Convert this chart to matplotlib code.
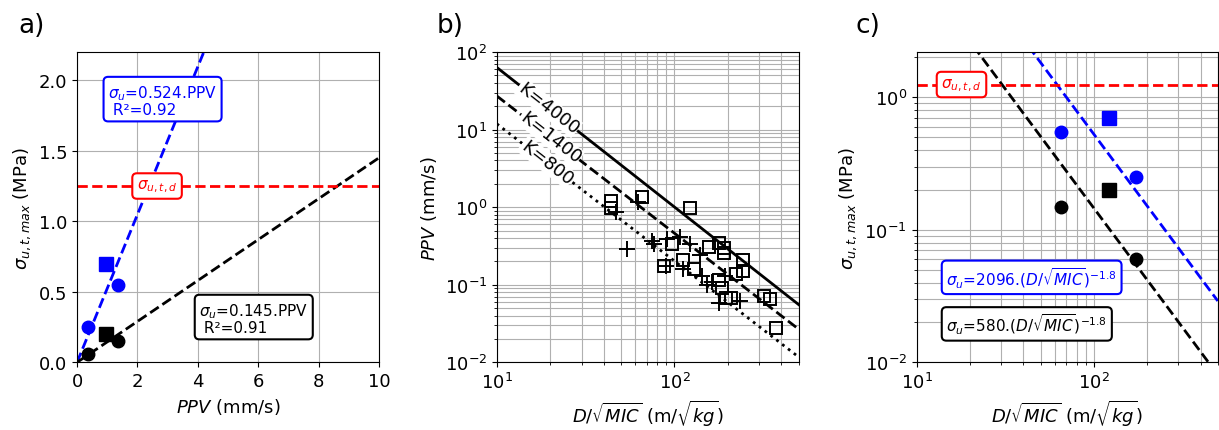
import numpy as np
import matplotlib
matplotlib.use("Agg")
import matplotlib.pyplot as plt

# panel a: sigma vs PPV
ppv_circ = [0.35, 1.35]
ppv_sq = [0.97]
sig_blue_circ = [0.25, 0.55]
sig_blue_sq = [0.70]
sig_black_circ = [0.06, 0.15]
sig_black_sq = [0.20]
slope_blue = 0.524
slope_black = 0.145
sig_design = 1.25

# panel b: PPV vs scaled distance
sq_sd = [44, 44, 66, 122, 97, 157, 177, 189, 189, 244, 244, 222, 87, 111, 128,
         177, 184, 194, 208, 317, 343, 373]
sq_ppv = [1.19, 0.97, 1.37, 0.98, 0.34, 0.31, 0.35, 0.30, 0.26, 0.21, 0.15, 0.136,
          0.177, 0.21, 0.158, 0.115, 0.09, 0.067, 0.067, 0.072, 0.065, 0.028]
pl_sd = [47, 62, 54, 74.5, 76.5, 91, 107, 122, 140, 112, 143, 152, 162, 193, 179,
         234, 90]
pl_ppv = [0.86, 1.15, 0.29, 0.37, 0.34, 0.39, 0.41, 0.34, 0.24, 0.16, 0.13, 0.10,
          0.11, 0.13, 0.058, 0.0625, 0.175]
k_labels = [4000, 1400, 800]
k_coef = [4000, 1600, 700]
k_exp = [-1.8, -1.77, -1.77]
k_styles = ['-', '--', ':']

# panel c: sigma vs scaled distance
sd_circ = [65.5, 173]
sd_sq = [121]
c_blue = 2096
c_black = 580
c_exp = -1.8

plt.rcParams['font.family'] = 'DejaVu Sans'
fig = plt.figure(figsize=(12.19, 4.31), dpi=100)
bot, h, w = 0.157, 0.72, 0.2477
ax1 = fig.add_axes([0.0632, bot, w, h])
ax2 = fig.add_axes([0.4075, bot, w, h])
ax3 = fig.add_axes([0.7520, bot, 0.247, h])

fs = 13
bfs = 11
sig_label = r'$\sigma_{u,t,max}$ (MPa)'
sd_label = r'$D/\sqrt{MIC}$ (m/$\sqrt{kg}$)'


def box(color):
    return dict(boxstyle='round,pad=0.3', fc='white', ec=color, lw=1.5)


# ---- a)
x = np.linspace(0, 10, 100)
ax1.plot(x, slope_blue * x, '--', color='blue', lw=2)
ax1.plot(x, slope_black * x, '--', color='black', lw=2)
ax1.axhline(sig_design, color='red', ls='--', lw=2)
ax1.plot(ppv_circ, sig_blue_circ, 'o', color='blue', ms=9)
ax1.plot(ppv_sq, sig_blue_sq, 's', color='blue', ms=10)
ax1.plot(ppv_circ, sig_black_circ, 'o', color='black', ms=9)
ax1.plot(ppv_sq, sig_black_sq, 's', color='black', ms=10)
ax1.set_xlim(0, 10)
ax1.set_ylim(0, 2.2)
ax1.set_xticks([0, 2, 4, 6, 8, 10])
ax1.set_yticks([0, 0.5, 1.0, 1.5, 2.0])
ax1.grid(True, color='#b0b0b0')
ax1.set_axisbelow(True)
ax1.set_xlabel(r'$PPV$ (mm/s)', fontsize=fs)
ax1.set_ylabel(sig_label, fontsize=fs)
ax1.text(1.03, 1.86, r'$\sigma_u$=0.524.PPV' + '\n R²=0.92', color='blue', fontsize=bfs,
         va='center', ha='left', linespacing=1.0, bbox=box('blue'))
ax1.text(2.65, 1.25, r'$\sigma_{u,t,d}$', color='red', fontsize=bfs, ha='center',
         va='center', bbox=box('red'))
ax1.text(4.05, 0.315, r'$\sigma_u$=0.145.PPV' + '\n R²=0.91', color='black', fontsize=bfs,
         va='center', ha='left', linespacing=1.0, bbox=box('black'))

# ---- b)
sd = np.logspace(1, np.log10(500), 100)
for k, c, e, st in zip(k_labels, k_coef, k_exp, k_styles):
    ax2.plot(sd, c * sd ** e, st, color='black', lw=2)
ax2.plot(sq_sd, sq_ppv, 's', mfc='none', mec='black', ms=8, mew=1.4)
ax2.plot(pl_sd, pl_ppv, '+', color='black', ms=11, mew=1.4)
ax2.set_xscale('log')
ax2.set_yscale('log')
ax2.set_xlim(10, 500)
ax2.set_ylim(0.01, 100)
ax2.grid(True, which='both', color='#b0b0b0')
ax2.set_axisbelow(True)
ax2.set_xlabel(sd_label, fontsize=fs)
ax2.set_ylabel(r'$PPV$ (mm/s)', fontsize=fs)
p0 = ax2.transData.transform((10, 1))
p1 = ax2.transData.transform((100, 10 ** -1.8))
ang = np.degrees(np.arctan2(p1[1] - p0[1], p1[0] - p0[0]))
for k, c, e, xl in zip(k_labels, k_coef, k_exp, [19.5, 20, 19.1]):
    ax2.text(xl, c * xl ** e, 'K=%d' % k, fontsize=13, rotation=ang,
             rotation_mode='anchor', ha='center', va='center',
             bbox=dict(fc='white', ec='none', pad=0.5))

# ---- c)
ax3.plot(sd, c_blue * sd ** c_exp, '--', color='blue', lw=2)
ax3.plot(sd, c_black * sd ** c_exp, '--', color='black', lw=2)
ax3.axhline(sig_design, color='red', ls='--', lw=2)
ax3.plot(sd_circ, sig_blue_circ[::-1], 'o', color='blue', ms=9)
ax3.plot(sd_sq, sig_blue_sq, 's', color='blue', ms=10)
ax3.plot(sd_circ, sig_black_circ[::-1], 'o', color='black', ms=9)
ax3.plot(sd_sq, sig_black_sq, 's', color='black', ms=10)
ax3.set_xscale('log')
ax3.set_yscale('log')
ax3.set_xlim(10, 500)
ax3.set_ylim(0.01, 2.2)
ax3.grid(True, which='both', color='#b0b0b0')
ax3.set_axisbelow(True)
ax3.set_xlabel(sd_label, fontsize=fs)
ax3.set_ylabel(sig_label, fontsize=fs)
ax3.text(17.9, 1.25, r'$\sigma_{u,t,d}$', color='red', fontsize=bfs, ha='center',
         va='center', bbox=box('red'))
ax3.text(14.7, 0.0438, r'$\sigma_u$=2096.$(D/\sqrt{MIC})^{-1.8}$', color='blue',
         fontsize=bfs, ha='left', va='center', bbox=box('blue'))
ax3.text(14.7, 0.0195, r'$\sigma_u$=580.$(D/\sqrt{MIC})^{-1.8}$', color='black',
         fontsize=bfs, ha='left', va='center', bbox=box('black'))

for ax in (ax1, ax2, ax3):
    ax.tick_params(labelsize=fs)

fig.text(0.015, 0.94, 'a)', fontsize=19, va='center')
fig.text(0.358, 0.94, 'b)', fontsize=19, va='center')
fig.text(0.702, 0.94, 'c)', fontsize=19, va='center')

fig.savefig('out.png', dpi=100)
